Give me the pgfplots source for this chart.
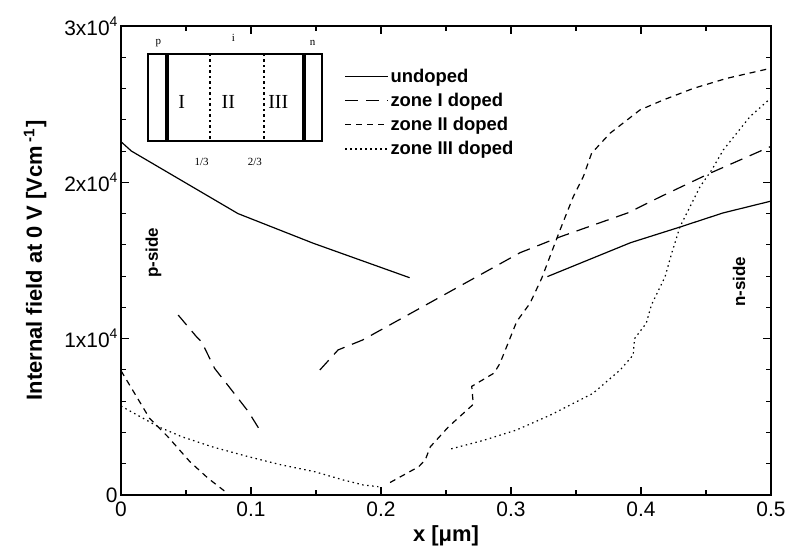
\documentclass[border=0pt]{standalone}
\usepackage{fontspec}
\setmainfont{Liberation Sans}
\newfontfamily\timesfont{Liberation Serif}
\usepackage{pgfplots}
\pgfplotsset{compat=1.18}
\usetikzlibrary{calc}

\newcommand{\tenfour}[1]{#1x10\raisebox{0.42em}{\fontsize{14}{14}\selectfont 4}}

\begin{document}
\begin{tikzpicture}
\begin{axis}[
    name=ax, scale only axis, width=650bp, height=469bp,
    xmin=0, xmax=0.5, ymin=0, ymax=30000,
    scaled y ticks=false,
    xtick={0,0.1,0.2,0.3,0.4,0.5}, xticklabels={0,0.1,0.2,0.3,0.4,0.5},
    ytick={0,10000,20000,30000},
    yticklabels={0,\tenfour{1},\tenfour{2},\tenfour{3}},
    minor x tick num=1, minor y tick num=4,
    tick align=inside, major tick length=8bp, minor tick length=5bp,
    axis line style={line width=1.5bp},
    tick style={line width=1.1bp, black},
    tick label style={font=\fontsize{21}{24}\selectfont},
    xticklabel style={yshift=-3bp},
    xlabel={x [μm]},
    ylabel={Internal field at 0 V [Vcm\,\textsuperscript{-1}]},
    label style={font=\bfseries\fontsize{22}{26}\selectfont},
    xlabel shift=2bp, ylabel shift=11bp,
    every axis plot/.append style={line width=1.2bp, black, no marks},
    legend style={draw=none, fill=none, at={(axis cs:0.172,27350)}, anchor=north west,
        font=\bfseries\fontsize{18.5}{20}\selectfont, row sep=6.3bp, inner sep=0pt,
        nodes={inner sep=1.5bp}},
    legend cell align=left,
    legend image code/.code={\draw[#1] (0bp,0bp) -- (43bp,0bp);},
]
% undoped
\addplot[solid] coordinates {(0,22600) (0.008,22000) (0.09,18000) (0.148,16100) (0.222,13900)};
\addlegendentry{undoped}
\addplot[solid, forget plot] coordinates {(0.328,13970) (0.392,16140) (0.43,17140) (0.463,18040) (0.5,18800)};
% zone I doped
\addplot[dash pattern=on 13bp off 8bp] coordinates {(0.044,11510) (0.058,10130) (0.062,9800) (0.072,8100) (0.085,6720) (0.098,5330) (0.108,3990)};
\addlegendentry{zone I doped}
\addplot[dash pattern=on 13bp off 8bp, forget plot] coordinates {(0.153,8000) (0.167,9280) (0.186,9920) (0.307,15500) (0.338,16520) (0.39,18050) (0.415,19080) (0.453,20580) (0.5,22300)};
% zone II doped
\addplot[dash pattern=on 6bp off 5bp] coordinates {(0,7950) (0.022,4900) (0.036,3730) (0.053,2130) (0.067,1070) (0.082,100)};
\addlegendentry{zone II doped}
\addplot[dash pattern=on 6bp off 5bp, forget plot] coordinates {(0.207,800) (0.229,1810) (0.234,2240) (0.238,3090) (0.252,4370) (0.271,5800) (0.2698,6950) (0.287,7800) (0.2915,8420) (0.3044,11100) (0.3146,12260) (0.3236,13860) (0.3377,16950) (0.3479,19080) (0.3556,20360) (0.362,21860) (0.3762,23140) (0.3992,24630) (0.4172,25270) (0.4403,26010) (0.4659,26650) (0.5,27300)};
% zone III doped
\addplot[dash pattern=on 1.5bp off 3.5bp] coordinates {(0,5690) (0.0287,4370) (0.0467,3730) (0.0698,3090) (0.098,2450) (0.1236,1920) (0.149,1490) (0.171,960) (0.1864,640) (0.198,530)};
\addlegendentry{zone III doped}
\addplot[dash pattern=on 1.5bp off 3.5bp, forget plot] coordinates {(0.254,2950) (0.279,3500) (0.304,4150) (0.33,5100) (0.363,6500) (0.384,8000) (0.394,8960) (0.395,10000) (0.404,10980) (0.408,12150) (0.4185,13960) (0.4236,15460) (0.43,17160) (0.4454,19720) (0.4544,20790) (0.4633,22070) (0.4838,24200) (0.5,25400)};

% device sketch (inset)
\draw[line width=2bp] (axis cs:0.021,22660) rectangle (axis cs:0.1546,28190);
\draw[line width=4bp] (axis cs:0.0353,22660) -- (axis cs:0.0353,28190);
\draw[line width=4bp] (axis cs:0.1408,22660) -- (axis cs:0.1408,28190);
\draw[line width=2.5bp, dash pattern=on 2.5bp off 3bp] (axis cs:0.0685,22800) -- (axis cs:0.0685,28190);
\draw[line width=2.5bp, dash pattern=on 2.5bp off 3bp] (axis cs:0.110,22800) -- (axis cs:0.110,28190);
\node[font=\timesfont\fontsize{11}{11}\selectfont] at (axis cs:0.0287,28890) {p};
\node[font=\timesfont\fontsize{11}{11}\selectfont] at (axis cs:0.0864,29210) {i};
\node[font=\timesfont\fontsize{11}{11}\selectfont] at (axis cs:0.1474,28890) {n};
\node[font=\timesfont\fontsize{20}{20}\selectfont] at (axis cs:0.0467,25160) {I};
\node[font=\timesfont\fontsize{20}{20}\selectfont] at (axis cs:0.0825,25160) {II};
\node[font=\timesfont\fontsize{20}{20}\selectfont] at (axis cs:0.1210,25160) {III};
\node[font=\timesfont\fontsize{11}{11}\selectfont] at (axis cs:0.0620,21320) {1/3};
\node[font=\timesfont\fontsize{11}{11}\selectfont] at (axis cs:0.1030,21320) {2/3};

\node[rotate=90, font=\bfseries\fontsize{17}{17}\selectfont] at (axis cs:0.025,15500) {p-side};
\node[rotate=90, font=\bfseries\fontsize{17}{17}\selectfont] at (axis cs:0.4754,13640) {n-side};
\end{axis}
\pgfresetboundingbox
\useasboundingbox ($(ax.south west)+(-121bp,-56bp)$) rectangle ($(ax.north east)+(16bp,26bp)$);
\end{tikzpicture}
\end{document}
